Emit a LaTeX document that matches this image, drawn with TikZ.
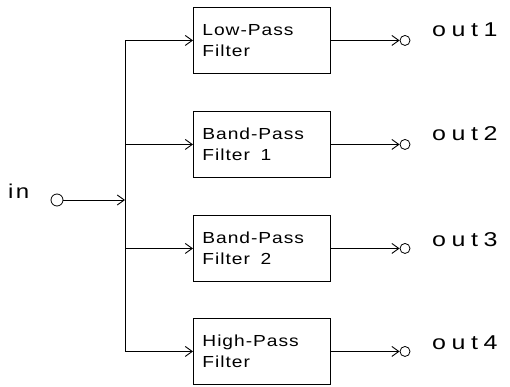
\documentclass[tikz,border=0pt]{standalone}
\usepackage{fontspec}
\setmainfont{Liberation Sans}
\newfontfamily\boxfont[FakeStretch=1.2,LetterSpace=6]{Liberation Sans}
\newfontfamily\outfont[FakeStretch=1.25,LetterSpace=28]{Liberation Sans}
\newfontfamily\infont[FakeStretch=1.2,LetterSpace=12]{Liberation Sans}
\usetikzlibrary{arrows.meta}
\tikzset{
  filt/.style={draw, line width=0.9pt, minimum height=66pt, text width=119pt,
    inner sep=9pt, anchor=north west, align=left,
    font=\boxfont\fontsize{16}{21}\selectfont},
  term/.style={circle, draw, line width=0.8pt, minimum size=10pt, inner sep=0pt},
  arr/.style={line width=0.9pt, -{Straight Barb[length=7pt,width=10pt,line width=0.9pt]}},
  wire/.style={line width=0.9pt},
  outlbl/.style={anchor=base west, inner sep=0pt,
    font=\outfont\fontsize{20}{20}\selectfont},
}
\begin{document}
\begin{tikzpicture}[x=1pt,y=-1pt]
\useasboundingbox (0,0) rectangle (510,387);
\node[filt] (f1) at (193,7)   {Low-Pass\\Filter};
\node[filt] (f2) at (193,111) {Band-Pass\\Filter~~1};
\node[filt] (f3) at (193,215) {Band-Pass\\Filter~~2};
\node[filt] (f4) at (193,318) {High-Pass\\Filter};
\coordinate (busx) at (125,0);
\coordinate (ox) at (405,0);
% bus
\draw[wire] (f1.west -| busx) -- (f4.west -| busx);
\foreach \i in {1,2,3,4} {
  \draw[arr] (f\i.west -| busx) -- (f\i.west);
  \node[term] (o\i) at (f\i.west -| ox) {};
  \draw[arr] (f\i.east) -- (o\i.west);
}
% input
\node[term, minimum size=12pt] (in) at (57,200) {};
\node[anchor=base west, inner sep=0pt, font=\infont\fontsize{20}{20}\selectfont] (inlbl) at (8,198) {in};
\draw[arr] (in.east) -- (in.east -| busx);
% output labels
\node[outlbl] (l1) at (432,37)  {out1};
\node[outlbl] (l2) at (432,141) {out2};
\node[outlbl] (l3) at (432,246) {out3};
\node[outlbl] (l4) at (432,349) {out4};
\end{tikzpicture}
\end{document}
